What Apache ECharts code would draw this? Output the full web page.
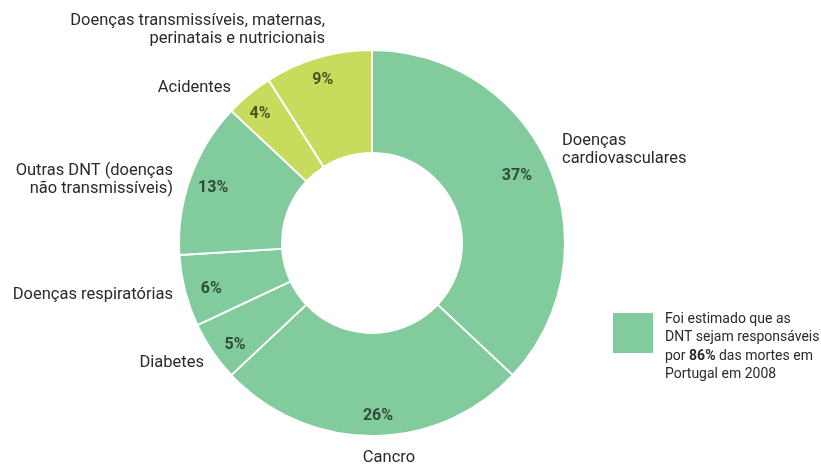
<!DOCTYPE html>
<html>
<head>
<meta charset="utf-8">
<script src="https://cdn.jsdelivr.net/npm/echarts@6/dist/echarts.min.js"></script>
<style>
  html, body { margin: 0; padding: 0; background: #fff; }
  #chart { width: 821px; height: 466px; }
</style>
</head>
<body>
<div id="chart"></div>
<script>
// Causes of death, clockwise from 12 o'clock
const categories = [
  'Doenças\ncardiovasculares',
  'Cancro',
  'Diabetes',
  'Doenças respiratórias',
  'Outras DNT (doenças\nnão transmissíveis)',
  'Acidentes',
  'Doenças transmissíveis, maternas,\nperinatais e nutricionais'
];
const shares = [37, 26, 5, 6, 13, 4, 9];
const groups = ['dnt', 'dnt', 'dnt', 'dnt', 'dnt', 'other', 'other'];

const noteLines = [
  'Foi estimado que as',
  'DNT sejam responsáveis',
  'por {b|86%} das mortes em',
  'Portugal em 2008'
];

const groupColor = { dnt: '#82cb9c', other: '#c9db5c' };
const FONT = 'Roboto, "Noto Sans", sans-serif';

// Where each category name sits around the ring: [x, y, align]
const nameSpots = [
  [562, 150, 'left'],
  [389, 458, 'center'],
  [204, 363, 'right'],
  [173, 295, 'right'],
  [173, 180, 'right'],
  [231, 88, 'right'],
  [325, 30, 'right']
];

// Small nudges for the percentage labels: [dx, dy]
const pctNudge = [
  [-12, 1],
  [6, 1.5],
  [4.5, 5.5],
  [5, 3.5],
  [2, 3],
  [-3, 3],
  [-1.5, 1.5]
];

const ringData = categories.map((name, i) => ({
  name: name,
  value: shares[i],
  itemStyle: { color: groupColor[groups[i]] }
}));

const chart = echarts.init(document.getElementById('chart'));
chart.setOption({
  animation: false,
  backgroundColor: '#ffffff',
  series: [
    {
      type: 'pie',
      center: [372, 243],
      radius: [90, 193],
      startAngle: 90,
      clockwise: true,
      avoidLabelOverlap: false,
      silent: true,
      itemStyle: { borderColor: '#ffffff', borderWidth: 2 },
      label: {
        show: true,
        position: 'outside',
        formatter: '{b}',
        fontFamily: FONT,
        fontSize: 16.5,
        lineHeight: 18,
        color: '#2a2a2a'
      },
      labelLine: { show: false },
      labelLayout: function (p) {
        const s = nameSpots[p.dataIndex];
        return { x: s[0], y: s[1], align: s[2], verticalAlign: 'middle' };
      },
      data: ringData
    },
    {
      // percentage labels, set toward the outer edge of the ring
      type: 'pie',
      center: [372, 243],
      radius: [143, 193],
      startAngle: 90,
      clockwise: true,
      avoidLabelOverlap: false,
      silent: true,
      z: 3,
      itemStyle: { color: 'rgba(0,0,0,0)', borderWidth: 0 },
      label: {
        show: true,
        position: 'inside',
        formatter: '{c}%',
        fontFamily: FONT,
        fontSize: 16,
        fontWeight: 'bold',
        color: 'rgba(0,0,0,0.64)'
      },
      labelLine: { show: false },
      labelLayout: function (p) {
        const n = pctNudge[p.dataIndex];
        return { dx: n[0], dy: n[1] };
      },
      data: ringData.map(d => ({ name: d.name, value: d.value }))
    }
  ],
  graphic: [
    {
      type: 'rect',
      shape: { x: 613, y: 313, width: 40, height: 40 },
      style: { fill: groupColor.dnt }
    },
    {
      type: 'text',
      x: 665,
      y: 347,
      style: {
        text: noteLines.join('\n'),
        fontFamily: FONT,
        fontSize: 14,
        lineHeight: 18.5,
        fill: '#2a2a2a',
        verticalAlign: 'middle',
        align: 'left',
        rich: {
          b: { fontFamily: FONT, fontSize: 14, fontWeight: 'bold', fill: '#2a2a2a', lineHeight: 18.5 }
        }
      }
    }
  ]
});
</script>
</body>
</html>
